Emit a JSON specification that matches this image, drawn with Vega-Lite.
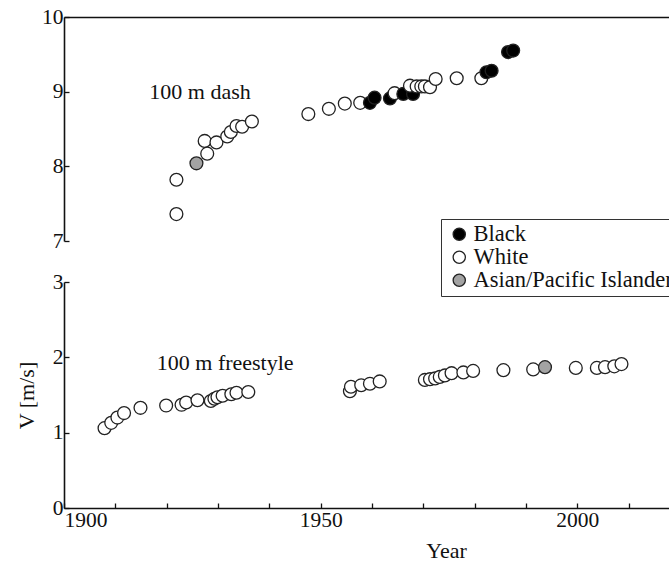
{
  "$schema": "https://vega.github.io/schema/vega-lite/v6.json",
  "padding": {"left": 15, "top": 6, "right": 0, "bottom": 0},
  "background": "white",
  "bounds": "flush",
  "config": {
    "view": {"stroke": null},
    "font": "Liberation Serif",
    "axis": {
      "grid": false,
      "domainColor": "#111",
      "domainWidth": 1.6,
      "tickColor": "#111",
      "tickWidth": 1.3,
      "labelColor": "#111",
      "labelFont": "Liberation Serif",
      "labelFontSize": 21.5,
      "titleFont": "Liberation Serif",
      "titleFontSize": 22,
      "titleFontWeight": "normal",
      "titleColor": "#111"
    },
    "legend": {
      "labelFont": "Liberation Serif",
      "labelFontSize": 22.5,
      "labelColor": "#111",
      "labelLimit": 400
    }
  },
  "datasets": {
    "records": [
      {"event": "dash", "year": 1921.9, "v": 7.36, "group": "White"},
      {"event": "dash", "year": 1921.9, "v": 7.82, "group": "White"},
      {"event": "dash", "year": 1925.8, "v": 8.04, "group": "Asian/Pacific Islander"},
      {"event": "dash", "year": 1927.4, "v": 8.34, "group": "White"},
      {"event": "dash", "year": 1927.9, "v": 8.17, "group": "White"},
      {"event": "dash", "year": 1929.7, "v": 8.32, "group": "White"},
      {"event": "dash", "year": 1931.8, "v": 8.40, "group": "White"},
      {"event": "dash", "year": 1932.5, "v": 8.46, "group": "White"},
      {"event": "dash", "year": 1933.6, "v": 8.54, "group": "White"},
      {"event": "dash", "year": 1934.7, "v": 8.53, "group": "White"},
      {"event": "dash", "year": 1936.6, "v": 8.60, "group": "White"},
      {"event": "dash", "year": 1947.6, "v": 8.70, "group": "White"},
      {"event": "dash", "year": 1951.6, "v": 8.77, "group": "White"},
      {"event": "dash", "year": 1954.7, "v": 8.84, "group": "White"},
      {"event": "dash", "year": 1957.7, "v": 8.85, "group": "White"},
      {"event": "dash", "year": 1959.6, "v": 8.85, "group": "Black"},
      {"event": "dash", "year": 1960.5, "v": 8.92, "group": "Black"},
      {"event": "dash", "year": 1963.5, "v": 8.91, "group": "Black"},
      {"event": "dash", "year": 1964.4, "v": 8.98, "group": "White"},
      {"event": "dash", "year": 1966.1, "v": 8.97, "group": "Black"},
      {"event": "dash", "year": 1968.0, "v": 8.97, "group": "Black"},
      {"event": "dash", "year": 1967.4, "v": 9.08, "group": "White"},
      {"event": "dash", "year": 1968.7, "v": 9.07, "group": "White"},
      {"event": "dash", "year": 1969.6, "v": 9.07, "group": "White"},
      {"event": "dash", "year": 1970.3, "v": 9.07, "group": "White"},
      {"event": "dash", "year": 1971.3, "v": 9.06, "group": "White"},
      {"event": "dash", "year": 1972.4, "v": 9.17, "group": "White"},
      {"event": "dash", "year": 1976.5, "v": 9.18, "group": "White"},
      {"event": "dash", "year": 1981.3, "v": 9.18, "group": "White"},
      {"event": "dash", "year": 1982.3, "v": 9.26, "group": "Black"},
      {"event": "dash", "year": 1983.3, "v": 9.28, "group": "Black"},
      {"event": "dash", "year": 1986.5, "v": 9.53, "group": "Black"},
      {"event": "dash", "year": 1987.5, "v": 9.55, "group": "Black"},
      {"event": "freestyle", "year": 1907.9, "v": 1.06, "group": "White"},
      {"event": "freestyle", "year": 1909.2, "v": 1.13, "group": "White"},
      {"event": "freestyle", "year": 1910.4, "v": 1.20, "group": "White"},
      {"event": "freestyle", "year": 1911.7, "v": 1.26, "group": "White"},
      {"event": "freestyle", "year": 1914.9, "v": 1.33, "group": "White"},
      {"event": "freestyle", "year": 1919.9, "v": 1.36, "group": "White"},
      {"event": "freestyle", "year": 1922.9, "v": 1.37, "group": "White"},
      {"event": "freestyle", "year": 1923.8, "v": 1.40, "group": "White"},
      {"event": "freestyle", "year": 1926.0, "v": 1.43, "group": "White"},
      {"event": "freestyle", "year": 1928.6, "v": 1.42, "group": "White"},
      {"event": "freestyle", "year": 1929.3, "v": 1.45, "group": "White"},
      {"event": "freestyle", "year": 1929.9, "v": 1.47, "group": "White"},
      {"event": "freestyle", "year": 1930.9, "v": 1.49, "group": "White"},
      {"event": "freestyle", "year": 1932.6, "v": 1.51, "group": "White"},
      {"event": "freestyle", "year": 1933.6, "v": 1.53, "group": "White"},
      {"event": "freestyle", "year": 1935.9, "v": 1.54, "group": "White"},
      {"event": "freestyle", "year": 1955.7, "v": 1.55, "group": "White"},
      {"event": "freestyle", "year": 1955.9, "v": 1.61, "group": "White"},
      {"event": "freestyle", "year": 1957.9, "v": 1.63, "group": "White"},
      {"event": "freestyle", "year": 1959.6, "v": 1.65, "group": "White"},
      {"event": "freestyle", "year": 1961.5, "v": 1.68, "group": "White"},
      {"event": "freestyle", "year": 1970.3, "v": 1.70, "group": "White"},
      {"event": "freestyle", "year": 1971.3, "v": 1.71, "group": "White"},
      {"event": "freestyle", "year": 1972.3, "v": 1.72, "group": "White"},
      {"event": "freestyle", "year": 1973.2, "v": 1.74, "group": "White"},
      {"event": "freestyle", "year": 1974.2, "v": 1.76, "group": "White"},
      {"event": "freestyle", "year": 1975.5, "v": 1.79, "group": "White"},
      {"event": "freestyle", "year": 1977.8, "v": 1.80, "group": "White"},
      {"event": "freestyle", "year": 1979.7, "v": 1.82, "group": "White"},
      {"event": "freestyle", "year": 1985.6, "v": 1.83, "group": "White"},
      {"event": "freestyle", "year": 1991.4, "v": 1.84, "group": "White"},
      {"event": "freestyle", "year": 1993.7, "v": 1.87, "group": "Asian/Pacific Islander"},
      {"event": "freestyle", "year": 1999.7, "v": 1.86, "group": "White"},
      {"event": "freestyle", "year": 2003.8, "v": 1.86, "group": "White"},
      {"event": "freestyle", "year": 2005.4, "v": 1.87, "group": "White"},
      {"event": "freestyle", "year": 2007.2, "v": 1.88, "group": "White"},
      {"event": "freestyle", "year": 2008.6, "v": 1.91, "group": "White"}
    ],
    "labels": [
      {"event": "dash", "year": 1926.5, "v": 9.0, "text": "100 m dash"},
      {"event": "freestyle", "year": 1931.4, "v": 1.93, "text": "100 m freestyle"}
    ]
  },
  "vconcat": [
    {
      "width": 616,
      "height": 224,
      "layer": [
        {
          "data": {"name": "records"},
          "transform": [{"filter": "datum.event === 'dash'"}],
          "mark": {"type": "circle", "size": 165, "stroke": "#222", "strokeWidth": 1.3, "opacity": 1},
          "encoding": {
            "x": {
              "field": "year", "type": "quantitative",
              "scale": {"domain": [1900, 2020], "nice": false, "zero": false},
              "axis": {"orient": "top", "labels": false, "ticks": false, "title": null, "domain": true}
            },
            "y": {
              "field": "v", "type": "quantitative",
              "scale": {"domain": [7, 10], "nice": false, "zero": false},
              "axis": {
                "title": null,
                "values": [7, 7.5, 8, 8.5, 9, 9.5, 10],
                "labelExpr": "datum.value % 1 === 0 ? format(datum.value, 'd') : ''",
                "tickSize": -5,
                "labelPadding": 6
              }
            },
            "fill": {
              "field": "group", "type": "nominal",
              "scale": {"domain": ["Black", "White", "Asian/Pacific Islander"], "range": ["#000000", "#ffffff", "#a3a3a3"]},
              "legend": {
                "title": null,
                "orient": "none",
                "legendX": 377,
                "legendY": 202,
                "strokeColor": "#333",
                "padding": 4,
                "symbolSize": 150,
                "symbolStrokeColor": "#222",
                "symbolStrokeWidth": 1.3,
                "symbolOffset": 3,
                "labelOffset": 3,
                "rowPadding": 0
              }
            }
          }
        },
        {
          "data": {"name": "labels"},
          "transform": [{"filter": "datum.event === 'dash'"}],
          "mark": {"type": "text", "font": "Liberation Serif", "fontSize": 22, "align": "center", "baseline": "middle", "color": "#111"},
          "encoding": {
            "x": {"field": "year", "type": "quantitative"},
            "y": {"field": "v", "type": "quantitative"},
            "text": {"field": "text"}
          }
        }
      ]
    },
    {
      "width": 616,
      "height": 226,
      "layer": [
        {
          "data": {"name": "records"},
          "transform": [{"filter": "datum.event === 'freestyle'"}],
          "mark": {"type": "circle", "size": 165, "stroke": "#222", "strokeWidth": 1.3, "opacity": 1},
          "encoding": {
            "x": {
              "field": "year", "type": "quantitative",
              "scale": {"domain": [1900, 2020], "nice": false, "zero": false},
              "axis": {
                "title": "Year",
                "values": [1900, 1910, 1920, 1930, 1940, 1950, 1960, 1970, 1980, 1990, 2000, 2010, 2020],
                "labelExpr": "datum.value % 50 === 0 ? format(datum.value, 'd') : ''",
                "tickSize": -5,
                "labelPadding": 6,
                "titleX": 382,
                "titleY": 32,
                "titleBaseline": "top"
              }
            },
            "y": {
              "field": "v", "type": "quantitative",
              "scale": {"domain": [0, 3], "nice": false, "zero": false},
              "axis": {
                "title": "V [m/s]",
                "values": [0, 0.5, 1, 1.5, 2, 2.5, 3],
                "labelExpr": "datum.value % 1 === 0 ? format(datum.value, 'd') : ''",
                "tickSize": -5,
                "labelPadding": 6,
                "titlePadding": 14
              }
            },
            "fill": {
              "field": "group", "type": "nominal",
              "scale": {"domain": ["Black", "White", "Asian/Pacific Islander"], "range": ["#000000", "#ffffff", "#a3a3a3"]},
              "legend": null
            }
          }
        },
        {
          "data": {"name": "labels"},
          "transform": [{"filter": "datum.event === 'freestyle'"}],
          "mark": {"type": "text", "font": "Liberation Serif", "fontSize": 22, "align": "center", "baseline": "middle", "color": "#111"},
          "encoding": {
            "x": {"field": "year", "type": "quantitative"},
            "y": {"field": "v", "type": "quantitative"},
            "text": {"field": "text"}
          }
        }
      ]
    }
  ],
  "spacing": 41,
  "resolve": {"scale": {"fill": "independent"}, "legend": {"fill": "independent"}}
}
